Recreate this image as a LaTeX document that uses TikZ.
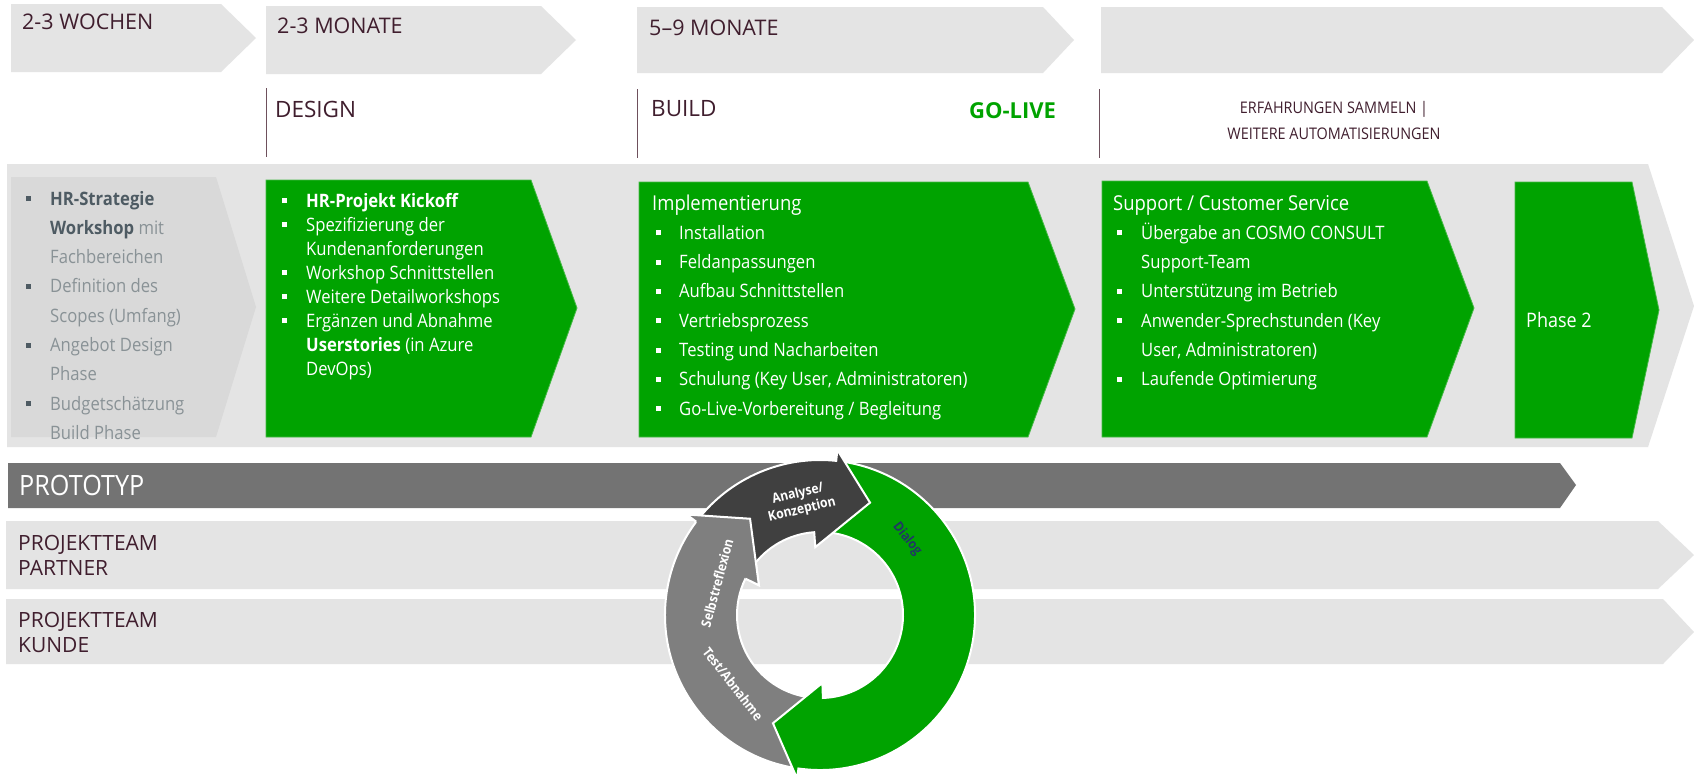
\documentclass[tikz,border=0pt]{standalone}
\usepackage{fontspec}
\setmainfont{Open Sans}[FakeStretch=0.9]
\newfontfamily\capsfont{Open Sans}
\usepackage{tikz}
\definecolor{mygreen}{RGB}{0, 163, 0}
\definecolor{myedge}{RGB}{70, 185, 70}
\definecolor{mylight}{RGB}{228, 228, 228}
\definecolor{mypre}{RGB}{217, 217, 217}
\definecolor{mybar}{RGB}{115, 115, 115}
\definecolor{mydark}{RGB}{64, 64, 64}
\definecolor{mygray}{RGB}{127, 127, 127}
\definecolor{mytext}{RGB}{64, 30, 46}
\definecolor{myrule}{RGB}{110, 80, 92}
\definecolor{myslate}{RGB}{78, 91, 99}
\definecolor{mysoft}{RGB}{137, 146, 150}
\definecolor{mynavy}{RGB}{32, 56, 100}

\newcommand{\bul}[1]{\makebox[#1][l]{\rule[4pt]{5pt}{5pt}}}
\newcommand{\skipin}[1]{\hspace*{#1}}
\newcommand{\boxlines}[1]{\begin{minipage}[t]{480pt}#1\end{minipage}}

\begin{document}
\begin{tikzpicture}[x=1pt, y=-1pt]
    \tikzstyle{band}=[fill=mylight]
    \tikzstyle{greenbox}=[fill=mygreen, draw=myedge, line width=0.8pt]
    \tikzstyle{headtext}=[anchor=base west, inner sep=0pt, text=mytext, font=\capsfont\fontsize{21.5}{25.5}\selectfont]
    \tikzstyle{listtext}=[anchor=base west, inner sep=0pt, text=white, font=\fontsize{18.5}{29.3}\selectfont]
    \tikzstyle{ringarrow}=[draw=white, line width=2pt]
    \tikzstyle{ringtext}=[inner sep=0pt, align=center, text=white, font=\bfseries\fontsize{13.5}{16.5}\selectfont]

    \useasboundingbox (0,0) rectangle (1694,780);
    \fill[white] (0,0) rectangle (1694,780);

    \fill[band] (11,4) -- (221,4) -- (256,38) -- (221,72) -- (11,72) -- cycle;
    \fill[band] (266,6) -- (541,6) -- (576,40) -- (541,74) -- (266,74) -- cycle;
    \fill[band] (637,7) -- (1043,7) -- (1074,40) -- (1043,73) -- (637,73) -- cycle;
    \fill[band] (1101,7) -- (1662,7) -- (1694,40) -- (1662,73) -- (1101,73) -- cycle;

    \node[headtext] (wochen) at (22,29) {2-3 WOCHEN};
    \node[headtext] (monate1) at (277,33) {2-3 MONATE};
    \node[headtext] (monate2) at (649,35) {5–9 MONATE};

    \draw[myrule, line width=1pt] (266,88) -- (266,157);
    \draw[myrule, line width=1pt] (637,89) -- (637,158);
    \draw[myrule, line width=1pt] (1099,89) -- (1099,158);
    \node[headtext, font=\capsfont\fontsize{22.5}{26}\selectfont] (design) at (275,117) {DESIGN};
    \node[headtext, font=\capsfont\fontsize{22.5}{26}\selectfont] (build) at (651,116) {BUILD};
    \node[headtext, text=mygreen, font=\capsfont\bfseries\fontsize{22}{26}\selectfont] (golive) at (969,118) {GO-LIVE};
    \node[headtext, anchor=base, font=\fontsize{16}{20}\selectfont] (sammeln) at (1334,113) {ERFAHRUNGEN SAMMELN |};
    \node[headtext, anchor=base, font=\fontsize{16}{20}\selectfont] (weitere) at (1334,139) {WEITERE AUTOMATISIERUNGEN};

    \fill[band] (7,164) -- (1648,164) -- (1694,306) -- (1648,447) -- (7,447) -- cycle;
    \fill[mypre] (11,177) -- (216,177) -- (256,307) -- (216,437) -- (11,437) -- cycle;
    \filldraw[greenbox] (266,180) -- (531,180) -- (577,308) -- (531,437) -- (266,437) -- cycle;
    \filldraw[greenbox] (639,182) -- (1028,182) -- (1075,309) -- (1028,437) -- (639,437) -- cycle;
    \filldraw[greenbox] (1102,181) -- (1427,181) -- (1474,308) -- (1427,437) -- (1102,437) -- cycle;
    \filldraw[greenbox] (1515,182) -- (1632,182) -- (1659,310) -- (1632,438) -- (1515,438) -- cycle;

    \node[listtext, text=mysoft] (pre) at (26,205) {\boxlines{%
        \textcolor{myslate}{\bul{24pt}\textbf{HR-Strategie}}\\
        \skipin{24pt}\textcolor{myslate}{\textbf{Workshop}} mit\\
        \skipin{24pt}Fachbereichen\\
        \textcolor{myslate}{\bul{24pt}}Definition des\\
        \skipin{24pt}Scopes (Umfang)\\
        \textcolor{myslate}{\bul{24pt}}Angebot Design\\
        \skipin{24pt}Phase\\
        \textcolor{myslate}{\bul{24pt}}Budgetschätzung\\
        \skipin{24pt}Build Phase}};
    \node[listtext, font=\fontsize{18.5}{24}\selectfont] (kickoff) at (282,207) {\boxlines{%
        \bul{24pt}\textbf{HR-Projekt Kickoff}\\
        \bul{24pt}Spezifizierung der\\
        \skipin{24pt}Kundenanforderungen\\
        \bul{24pt}Workshop Schnittstellen\\
        \bul{24pt}Weitere Detailworkshops\\
        \bul{24pt}Ergänzen und Abnahme\\
        \skipin{24pt}\textbf{Userstories} (in Azure\\
        \skipin{24pt}DevOps)}};
    \node[listtext] (impl) at (656,210) {\boxlines{%
        \skipin{-4pt}{\fontsize{20.5}{29.3}\selectfont Implementierung}\\
        \bul{23pt}Installation\\
        \bul{23pt}Feldanpassungen\\
        \bul{23pt}Aufbau Schnittstellen\\
        \bul{23pt}Vertriebsprozess\\
        \bul{23pt}Testing und Nacharbeiten\\
        \bul{23pt}Schulung (Key User, Administratoren)\\
        \bul{23pt}Go-Live-Vorbereitung / Begleitung}};
    \node[listtext] (support) at (1117,210) {\boxlines{%
        \skipin{-4pt}{\fontsize{20.5}{29.3}\selectfont Support / Customer Service}\\
        \bul{24pt}Übergabe an COSMO CONSULT\\
        \skipin{24pt}Support-Team\\
        \bul{24pt}Unterstützung im Betrieb\\
        \bul{24pt}Anwender-Sprechstunden (Key\\
        \skipin{24pt}User, Administratoren)\\
        \bul{24pt}Laufende Optimierung}};
    \node[listtext, font=\fontsize{20}{24}\selectfont] (phase2) at (1526,327) {Phase 2};

    \fill[mybar] (8,463) -- (1560,463) -- (1576,485) -- (1560,508) -- (8,508) -- cycle;
    \fill[band] (6,521) -- (1658,521) -- (1694,555) -- (1658,589) -- (6,589) -- cycle;
    \fill[band] (6,599) -- (1663,599) -- (1694,632) -- (1663,664) -- (6,664) -- cycle;
    \node[listtext, font=\fontsize{28}{32}\selectfont] (prototyp) at (19,495) {PROTOTYP};
    \node[headtext, font=\capsfont\fontsize{21}{25.5}\selectfont] (partner) at (18,550) {\boxlines{PROJEKTTEAM\\PARTNER}};
    \node[headtext, font=\capsfont\fontsize{21}{25.5}\selectfont] (kunde) at (18,627) {\boxlines{PROJEKTTEAM\\KUNDE}};

    \begin{scope}[shift={(820,615)}]
        \fill[mygray, ringarrow] (99:155) arc[start angle=99, end angle=217, radius=155] -- (217:167) -- (234:119) -- (206:68) -- (206:83) arc[start angle=206, end angle=97, radius=83] -- cycle;
        \fill[mygreen, ringarrow] (278:155) arc[start angle=278, end angle=458, radius=155] -- (458:165) -- (473.5:118) -- (448:68) -- (448:83) arc[start angle=448, end angle=276, radius=83] -- cycle;
        \fill[mydark, ringarrow] (218:155) arc[start angle=218, end angle=276, radius=155] -- (276:166) -- (294:123) -- (266:68) -- (266:83) arc[start angle=266, end angle=215, radius=83] -- cycle;
        \fill[mygray] (217:155) -- (217:167) -- (234:119) -- (206:68) -- (206:83) -- cycle;
        \draw[white, line width=2pt] (217:155) -- (217:167) -- (234:119) -- (206:68) -- (206:83);

        \node[ringtext, rotate=14] (analyse) at (-20,-113) {Analyse/\\Konzeption};
        \node[ringtext, rotate=-52, text=mynavy] (dialog) at (87,-76) {Dialog};
        \node[ringtext, rotate=75] (reflexion) at (-103,-32) {Selbstreflexion};
        \node[ringtext, rotate=-52] (test) at (-87,69) {Test/Abnahme};
    \end{scope}
\end{tikzpicture}
\end{document}
